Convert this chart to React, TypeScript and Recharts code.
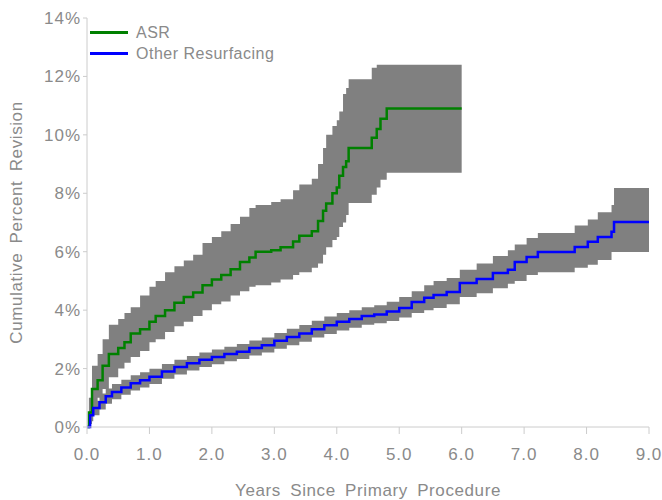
import { ComposedChart, Area, Line, XAxis, YAxis } from "recharts";

// ASR: step change points (years) with estimate and confidence limits (%)
const asrYears = [0, 0.03, 0.08, 0.17, 0.25, 0.35, 0.5, 0.6, 0.7, 0.85, 1.0, 1.1, 1.25, 1.4, 1.55, 1.7, 1.85, 2.0, 2.15, 2.3, 2.45, 2.6, 2.7, 2.95, 3.1, 3.3, 3.4, 3.6, 3.7, 3.78, 3.83, 3.93, 4.0, 4.04, 4.1, 4.15, 4.19, 4.56, 4.64, 4.7, 4.8, 6.0];
const asrRate = [0, 0.5, 1.3, 1.6, 2.1, 2.5, 2.7, 2.9, 3.2, 3.35, 3.6, 3.8, 4.0, 4.25, 4.45, 4.6, 4.85, 5.05, 5.2, 5.4, 5.65, 5.8, 6.0, 6.05, 6.15, 6.35, 6.55, 6.7, 7.05, 7.4, 7.65, 8.0, 8.2, 8.6, 8.9, 9.1, 9.55, 9.9, 10.2, 10.55, 10.9, 10.9];
const asrUpper = [0, 1.0, 2.1, 2.5, 3.0, 3.5, 3.7, 3.9, 4.1, 4.5, 4.8, 5.0, 5.3, 5.5, 5.7, 5.9, 6.3, 6.5, 6.7, 6.95, 7.2, 7.5, 7.6, 7.7, 7.8, 8.1, 8.3, 8.5, 9.0, 9.55, 10.0, 10.3, 10.5, 10.8, 11.4, 11.6, 11.9, 12.3, 12.4, 12.4, 12.4, 12.4];
const asrLower = [0, 0.1, 0.6, 1.0, 1.3, 1.7, 2.0, 2.2, 2.4, 2.6, 2.9, 3.0, 3.25, 3.45, 3.6, 3.8, 4.0, 4.2, 4.3, 4.5, 4.65, 4.8, 4.85, 4.95, 5.05, 5.2, 5.3, 5.45, 5.6, 5.9, 6.15, 6.4, 6.5, 6.85, 7.0, 7.26, 7.67, 7.95, 8.2, 8.46, 8.7, 8.7];

// Other Resurfacing
const otherYears = [0, 0.05, 0.1, 0.2, 0.3, 0.4, 0.55, 0.7, 0.85, 1.0, 1.2, 1.4, 1.6, 1.8, 2.0, 2.2, 2.4, 2.6, 2.8, 3.0, 3.2, 3.4, 3.6, 3.8, 4.0, 4.2, 4.4, 4.6, 4.8, 5.0, 5.2, 5.4, 5.55, 5.76, 5.97, 6.24, 6.5, 6.74, 6.85, 7.04, 7.22, 7.81, 8.02, 8.18, 8.4, 8.44, 9.0];
const otherRate = [0, 0.4, 0.65, 0.85, 1.05, 1.2, 1.35, 1.5, 1.6, 1.72, 1.9, 2.05, 2.18, 2.3, 2.4, 2.5, 2.58, 2.7, 2.8, 2.95, 3.08, 3.2, 3.35, 3.48, 3.6, 3.7, 3.8, 3.85, 3.95, 4.07, 4.28, 4.42, 4.52, 4.62, 4.93, 5.07, 5.27, 5.38, 5.65, 5.82, 5.99, 6.16, 6.34, 6.5, 6.68, 7.02, 7.02];
const otherLower = [0, 0.2, 0.4, 0.6, 0.8, 0.95, 1.1, 1.25, 1.35, 1.47, 1.65, 1.8, 1.93, 2.05, 2.15, 2.25, 2.33, 2.45, 2.55, 2.68, 2.8, 2.92, 3.06, 3.18, 3.3, 3.4, 3.5, 3.55, 3.63, 3.75, 3.9, 4.0, 4.07, 4.2, 4.45, 4.58, 4.75, 4.9, 5.0, 5.2, 5.3, 5.45, 5.55, 5.72, 5.99, 5.99, 5.99];
const otherUpper = [0, 0.6, 0.9, 1.15, 1.32, 1.47, 1.62, 1.77, 1.87, 1.99, 2.16, 2.3, 2.43, 2.55, 2.65, 2.75, 2.84, 2.96, 3.06, 3.22, 3.36, 3.49, 3.64, 3.78, 3.9, 4.0, 4.1, 4.17, 4.29, 4.45, 4.65, 4.85, 5.0, 5.1, 5.38, 5.6, 5.85, 6.05, 6.25, 6.47, 6.64, 6.9, 7.1, 7.35, 7.6, 8.18, 8.18];

const xTicks = [0, 1, 2, 3, 4, 5, 6, 7, 8, 9];
const yTicks = [0, 2, 4, 6, 8, 10, 12, 14];

const asrData = asrYears.map((yr, i) => ({ yr, rate: asrRate[i], band: [asrLower[i], asrUpper[i]] }));
const otherData = otherYears.map((yr, i) => ({ yr, rate: otherRate[i], band: [otherLower[i], otherUpper[i]] }));

const gray = "#8a8a8a";
const font = "'Liberation Sans', Arial, sans-serif";

const legendItems = [
  { name: "ASR", color: "#008000" },
  { name: "Other Resurfacing", color: "#0000ff" },
];

export default function App() {
  return (
    <div style={{ position: "absolute", left: 0, top: 0, width: 662, height: 500, background: "#fff" }}>
      <ComposedChart width={662} height={500} margin={{ top: 18, right: 13, left: 0, bottom: 0 }}>
        <XAxis
          dataKey="yr"
          type="number"
          domain={[0, 9]}
          ticks={xTicks}
          tickFormatter={(v) => v.toFixed(1)}
          allowDuplicatedCategory={false}
          height={73}
          stroke="#cccccc"
          tickSize={7}
          tick={{ fill: gray, fontSize: 17, fontFamily: font, letterSpacing: 1 }}
          tickMargin={14}
          label={{ value: "Years Since Primary Procedure", position: "insideBottom", offset: 4, fill: gray, fontSize: 17, fontFamily: font, letterSpacing: 0.6, wordSpacing: 4 }}
        />
        <YAxis
          type="number"
          domain={[0, 14]}
          ticks={yTicks}
          tickFormatter={(v) => `${v}%`}
          width={87}
          stroke="#cccccc"
          tickSize={4}
          tick={{ fill: gray, fontSize: 17, fontFamily: font, letterSpacing: 1 }}
          tickMargin={2}
          label={{ value: "Cumulative Percent Revision", angle: -90, position: "insideLeft", offset: 16, fill: gray, fontSize: 17, fontFamily: font, letterSpacing: 0.6, wordSpacing: 4, style: { textAnchor: "middle" } }}
        />
        <Area data={asrData} dataKey="band" type="stepAfter" fill="#808080" fillOpacity={1} stroke="none" isAnimationActive={false} />
        <Area data={otherData} dataKey="band" type="stepAfter" fill="#808080" fillOpacity={1} stroke="none" isAnimationActive={false} />
        <Line data={asrData} dataKey="rate" name="ASR" type="stepAfter" stroke="#008000" strokeWidth={2.5} dot={false} isAnimationActive={false} />
        <Line data={otherData} dataKey="rate" name="Other Resurfacing" type="stepAfter" stroke="#0000ff" strokeWidth={2.5} dot={false} isAnimationActive={false} />
      </ComposedChart>
      {/* legend */}
      <div style={{ position: "absolute", left: 90, top: 22, fontFamily: font, fontSize: 16, color: gray, letterSpacing: 0.5 }}>
        {legendItems.map((item) => (
          <div key={item.name} style={{ display: "flex", alignItems: "center", height: 21 }}>
            <div style={{ width: 38, height: 3, background: item.color, marginRight: 8 }} />
            <span>{item.name}</span>
          </div>
        ))}
      </div>
    </div>
  );
}
